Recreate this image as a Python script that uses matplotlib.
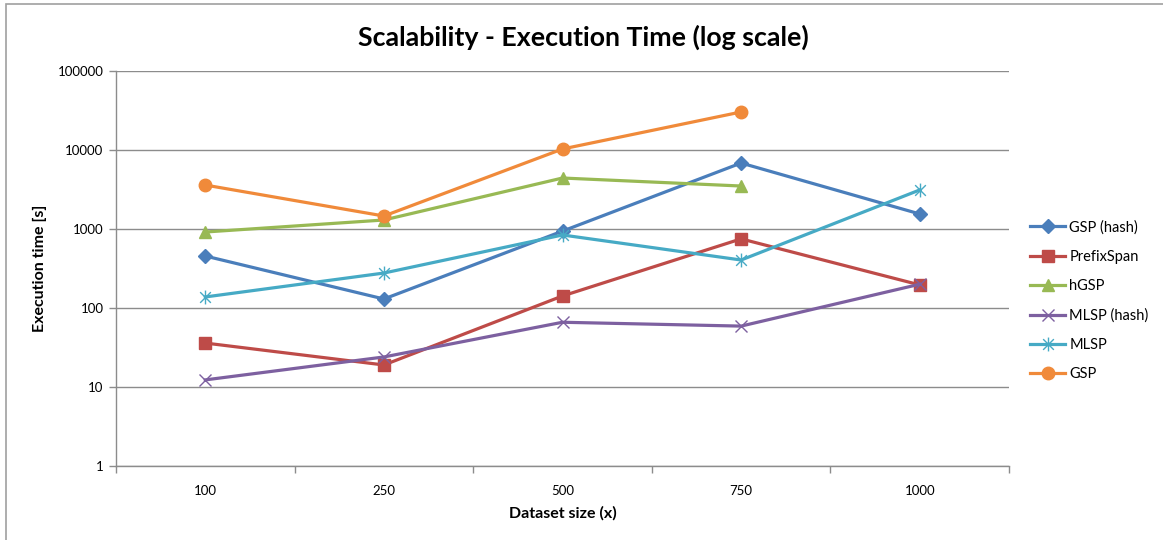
import matplotlib.pyplot as plt
import matplotlib.patches as mpatches
from matplotlib.path import Path
import numpy as np

plt.rcParams["font.family"] = ["Lato", "DejaVu Sans"]

# dataset sizes (categories) and execution times in seconds
sizes = ["100", "250", "500", "750", "1000"]
gsp_hash = [455, 130, 940, 6840, 1550]
prefixspan = [36, 19, 142, 750, 196]
hgsp = [916, 1300, 4420, 3500]
mlsp_hash = [12.3, 24, 66, 59, 200]
mlsp = [138, 277, 840, 405, 3120]
gsp = [3600, 1460, 10300, 30300]

# Excel-style star marker: x plus vertical bar
star = Path(
    [(-1, -1), (1, 1), (-1, 1), (1, -1), (0, -1.3), (0, 1.3)],
    [Path.MOVETO, Path.LINETO, Path.MOVETO, Path.LINETO, Path.MOVETO, Path.LINETO],
)

series = [
    ("GSP (hash)", gsp_hash, "#4A7EBB", "D", 7),
    ("PrefixSpan", prefixspan, "#BE4B48", "s", 8),
    ("hGSP", hgsp, "#98B954", "^", 8),
    ("MLSP (hash)", mlsp_hash, "#7D60A0", "x", 8),
    ("MLSP", mlsp, "#46AAC5", star, 10),
    ("GSP", gsp, "#F08A3A", "o", 9),
]

fig = plt.figure(figsize=(11.63, 5.40), dpi=100)
ax = fig.add_axes([116 / 1163, 74 / 540, 893 / 1163, 395 / 540])

for name, vals, col, mk, ms in series:
    x = np.arange(len(vals))
    ax.plot(x, vals, color=col, lw=2.3, marker=mk, ms=ms,
            mfc=col, mec=col, mew=1.0, label=name)

ax.set_yscale("log")
ax.set_ylim(1, 100000)
ax.set_yticks([1, 10, 100, 1000, 10000, 100000])
ax.set_yticklabels(["1", "10", "100", "1000", "10000", "100000"])
ax.minorticks_off()
ax.set_xlim(-0.5, 4.5)
ax.set_xticks(range(len(sizes)))
ax.set_xticklabels(sizes)
ax.set_xticks(np.arange(-0.5, 5, 1), minor=True)
ax.tick_params(axis="x", which="major", length=0, pad=14, labelsize=9.5)
ax.tick_params(axis="x", which="minor", length=5, color="#8C8C8C", width=1)
ax.tick_params(axis="y", which="major", length=5, color="#8C8C8C", width=1,
               labelsize=9.5, pad=4)
ax.grid(axis="y", color="#8C8C8C", lw=1)
ax.set_axisbelow(True)
for s in ["top", "right"]:
    ax.spines[s].set_visible(False)
for s in ["left", "bottom"]:
    ax.spines[s].set_color("#8C8C8C")
    ax.spines[s].set_linewidth(1)

ax.set_ylabel("Execution time [s]", fontsize=11.5, fontweight="bold", labelpad=8)
ax.set_xlabel("Dataset size (x)", fontsize=11.5, fontweight="bold", labelpad=6)
fig.text(583 / 1163, 1 - 37 / 540,
         "Scalability - Execution Time (log scale)",
         ha="center", va="center", fontsize=19.3, fontweight="bold")

ax.legend(loc="upper left", bbox_to_anchor=(1017 / 1163, 333 / 540),
          bbox_transform=fig.transFigure, frameon=False, fontsize=10.5,
          handlelength=2.4, labelspacing=1.05, handletextpad=0.3)

# outer chart border
fig.patches.append(mpatches.Rectangle((6 / 1163, -0.1), 1.2, (540 - 4) / 540 + 0.1,
                                      transform=fig.transFigure, fill=False,
                                      edgecolor="#A0A0A0", lw=1.2))

fig.savefig("out.png", dpi=100)
